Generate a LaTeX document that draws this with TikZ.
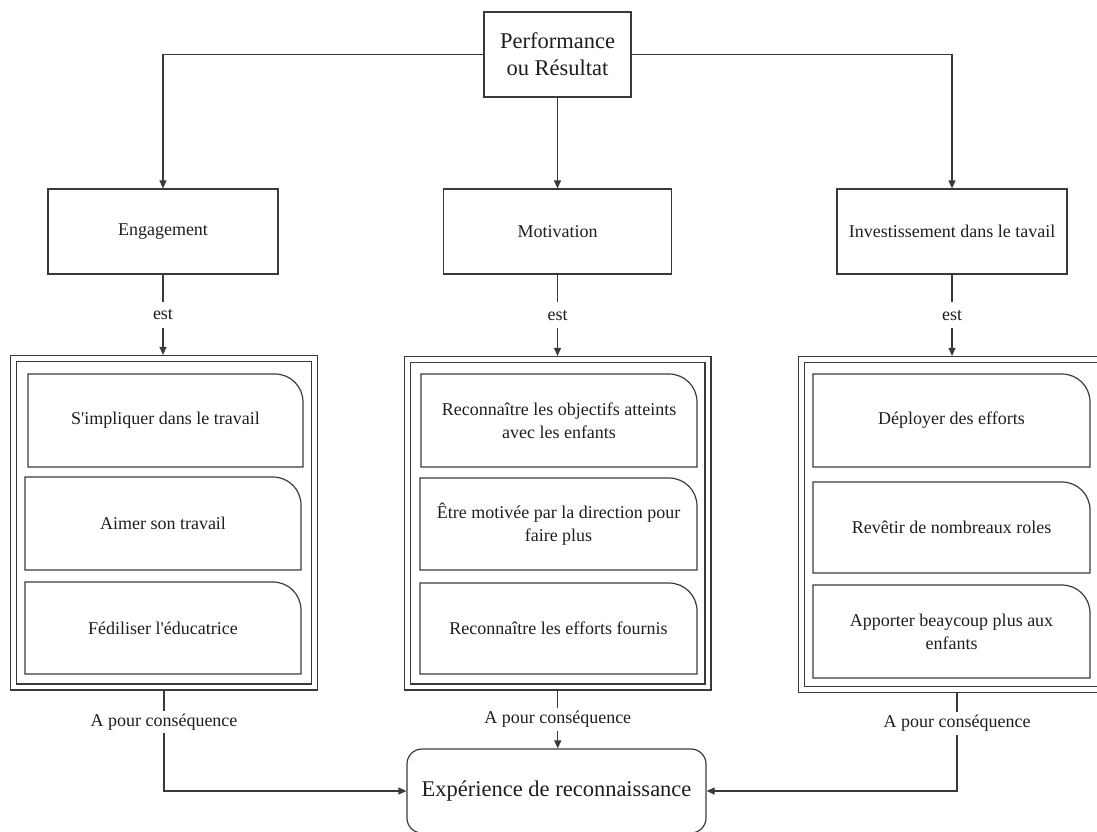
\documentclass[tikz,border=0pt]{standalone}
\usepackage{fontspec}
\setmainfont{Liberation Serif}
\usetikzlibrary{arrows.meta,calc}

\definecolor{ink}{HTML}{3A3A3A}
\definecolor{txt}{HTML}{1E1E1E}

\tikzset{
  base/.style={font=\fontsize{18}{23}\selectfont, text=txt},
  big/.style={font=\fontsize{22.5}{27}\selectfont},
  box/.style={base, draw=ink, line width=1.2pt, rectangle, inner sep=0pt, align=center},
  holder/.style={draw=ink, line width=1.2pt, double=white, double distance=4.8pt,
                 inner sep=0pt, outer sep=3.6pt},
  item/.style={base, inner sep=0pt, outer sep=0pt, align=center},
  link/.style={draw=ink, line width=1.2pt},
  arr/.style={link, -{Triangle[length=8pt,width=7pt]}},
  lbl/.style={base, fill=white, inner xsep=3pt, inner ysep=3pt},
  estlbl/.style={lbl, inner ysep=8pt},
}

% item box whose top right corner is rounded
\newcommand{\drawitem}[1]{%
  \draw[link] (#1.south west) -- (#1.north west) -- ($(#1.north east)+(-28,0)$)
    .. controls ($(#1.north east)+(-12.5,0)$) and ($(#1.north east)+(0,12.5)$) ..
    ($(#1.north east)+(0,28)$) -- (#1.south east) -- cycle;}

\begin{document}
\begin{tikzpicture}[x=1pt,y=-1pt]
\useasboundingbox (0,0) rectangle (1097,831);
\clip (0,0) rectangle (1097,831);

% top level
\node[box, big, minimum width=147pt, minimum height=85pt] (perf) at (557.5,54.5) {Performance\\ou Résultat};

% the three dimensions
\node[box, minimum width=230pt, minimum height=85pt] (eng) at (163,231.5) {Engagement};
\node[box, minimum width=228pt, minimum height=85pt] (mot) at (557.5,231.5) {Motivation};
\node[box, minimum width=230pt, minimum height=85pt] (inv) at (952,231.5) {Investissement dans le tavail};

% containers
\node[holder, minimum width=301pt, minimum height=328.5pt] (lc) at (164,522.75) {};
\node[holder, minimum width=300.5pt, minimum height=327.5pt] (mc) at (557.75,523.25) {};
\node[holder, minimum width=311pt, minimum height=330pt] (rc) at (957,524.5) {};

% items
\node[item, minimum width=275pt, minimum height=93pt] (l1) at (165.5,420.5) {S\textquotesingle impliquer dans le travail};
\node[item, minimum width=276pt, minimum height=93pt] (l2) at (163,523.5) {Aimer son travail};
\node[item, minimum width=276pt, minimum height=92pt] (l3) at (163,628) {Fédiliser l\textquotesingle éducatrice};

\node[item, minimum width=276pt, minimum height=93pt] (m1) at (559,420.5) {Reconnaître les objectifs atteints\\avec les enfants};
\node[item, minimum width=277pt, minimum height=92pt] (m2) at (558.5,524) {Être motivée par la direction pour\\faire plus};
\node[item, minimum width=277pt, minimum height=91pt] (m3) at (558.5,628.5) {Reconnaître les efforts fournis};

\node[item, minimum width=277pt, minimum height=93pt] (r1) at (951.5,420.5) {Déployer des efforts};
\node[item, minimum width=277pt, minimum height=91pt] (r2) at (951.5,527.5) {Revêtir de nombreaux roles};
\node[item, minimum width=277pt, minimum height=93pt] (r3) at (951.5,631.5) {Apporter beaycoup plus aux\\enfants};

\foreach \n in {l1,l2,l3,m1,m2,m3,r1,r2,r3} {\drawitem{\n}}

% result
\node[box, big, rounded corners=15pt, minimum width=299pt, minimum height=84pt] (exp) at (556.5,791) {Expérience de reconnaissance};

% connectors
\draw[arr] (perf.west) -| (eng.north);
\draw[arr] (perf.south) -- (perf.south |- mot.north);
\draw[arr] (perf.east) -| (inv.north);

\draw[arr] (eng.south) -- node[estlbl]{est} (eng.south |- lc.north);
\draw[arr] (mot.south) -- node[estlbl]{est} (mot.south |- mc.north);
\draw[arr] (inv.south) -- node[estlbl]{est} (inv.south |- rc.north);

\draw[arr] (lc.south) -- node[lbl, pos=0.31]{A pour conséquence} (lc.south |- exp.west) -- (exp.west);
\draw[arr] (mc.south) -- node[lbl]{A pour conséquence} (mc.south |- exp.north);
\draw[arr] (rc.south) -- node[lbl, pos=0.31]{A pour conséquence} (rc.south |- exp.east) -- (exp.east);
\end{tikzpicture}
\end{document}
